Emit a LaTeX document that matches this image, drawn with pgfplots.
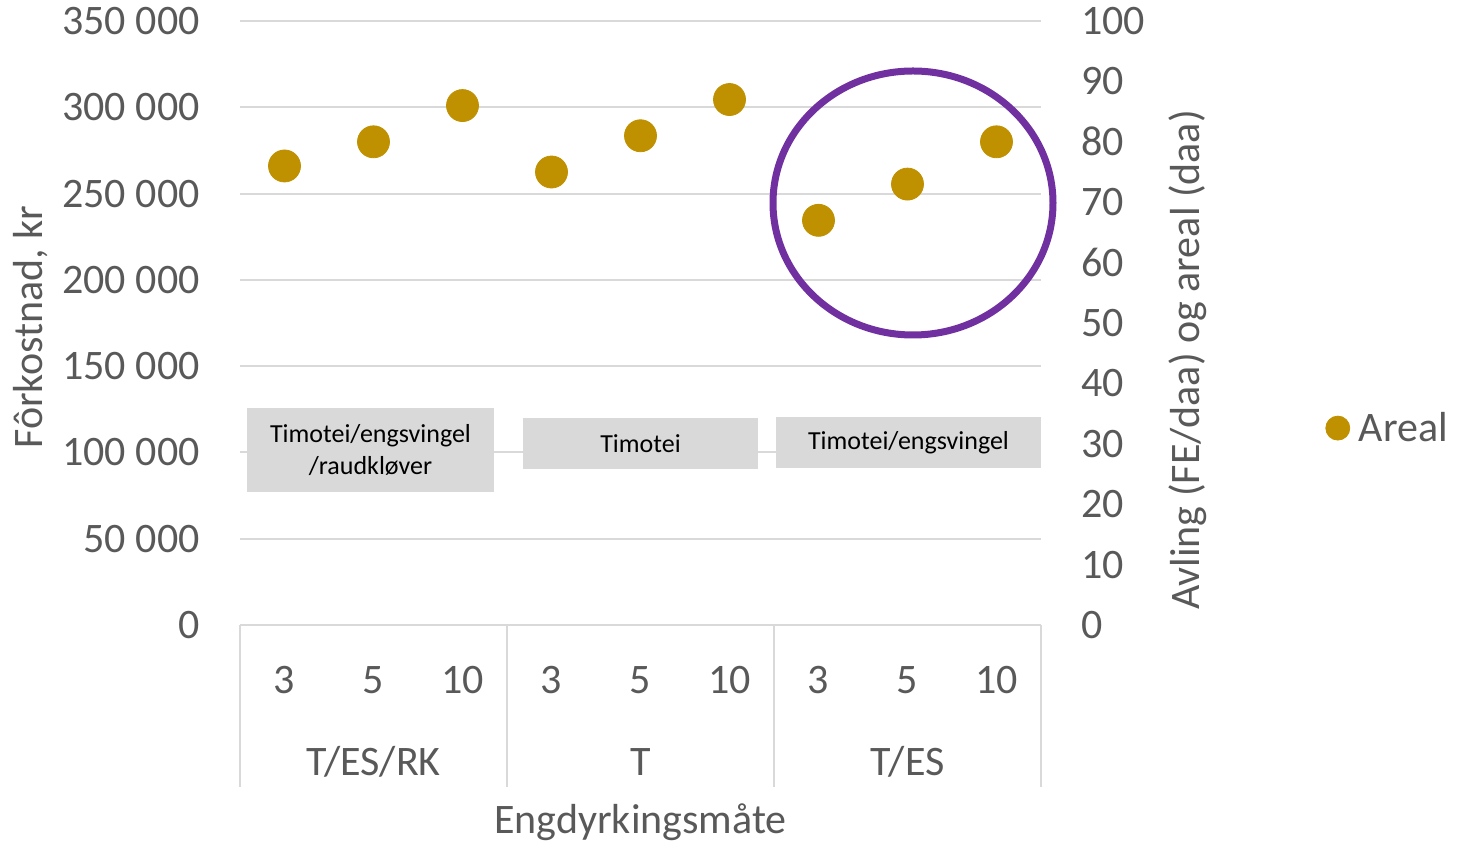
\documentclass[border=0pt]{standalone}
\usepackage{pgfplots}
\pgfplotsset{compat=1.18}
\usepackage{fontspec}
\setmainfont{Carlito}
\definecolor{txt}{HTML}{595959}
\definecolor{gridc}{HTML}{D9D9D9}
\definecolor{gold}{HTML}{BF9000}
\definecolor{purp}{HTML}{7030A0}
\newcommand{\bigf}{\fontsize{21}{25}\selectfont}
\begin{document}
\begin{tikzpicture}
\path[use as bounding box] (0,0) rectangle (740.5pt,421.5pt);
% left axis with grid and category axis
\begin{axis}[
  at={(120pt,109pt)}, anchor=south west,
  scale only axis, width=400.5pt, height=302pt,
  xmin=0, xmax=9, ymin=0, ymax=350000,
  scaled y ticks=false,
  axis line style={draw=none},
  major tick length=0pt,
  ytick={0,50000,100000,150000,200000,250000,300000,350000},
  yticklabels={0,50 000,100 000,150 000,200 000,250 000,300 000,350 000},
  xtick={0.5,1.5,2.5,3.5,4.5,5.5,6.5,7.5,8.5},
  xticklabels={3,5,10,3,5,10,3,5,10},
  ymajorgrids, grid style={gridc, line width=1pt},
  yticklabel style={font=\bigf, text=txt, anchor=east, inner sep=0pt, xshift=-20pt},
  xticklabel style={font=\bigf, text=txt, anchor=base, inner sep=0pt, yshift=-34.25pt},
  clip=false,
]
\draw[gridc, line width=1pt] (axis cs:0,0) -- (axis cs:9,0);
\draw[gridc, line width=1pt] (axis cs:0,0) -- ++(0,-81pt);
\draw[gridc, line width=1pt] (axis cs:3,0) -- ++(0,-81pt);
\draw[gridc, line width=1pt] (axis cs:6,0) -- ++(0,-81pt);
\draw[gridc, line width=1pt] (axis cs:9,0) -- ++(0,-81pt);
\node[font=\bigf, text=txt, anchor=base, inner sep=0pt] at ([yshift=-75.25pt]axis cs:1.5,0) {T/ES/RK};
\node[font=\bigf, text=txt, anchor=base, inner sep=0pt] at ([yshift=-75.25pt]axis cs:4.5,0) {T};
\node[font=\bigf, text=txt, anchor=base, inner sep=0pt] at ([yshift=-75.25pt]axis cs:7.5,0) {T/ES};
\end{axis}
% right axis with data
\begin{axis}[
  at={(120pt,109pt)}, anchor=south west,
  scale only axis, width=400.5pt, height=302pt,
  xmin=0, xmax=9, ymin=0, ymax=100,
  axis line style={draw=none},
  major tick length=0pt,
  xtick=\empty,
  axis y line*=right,
  ytick={0,10,...,100},
  yticklabels={0,10,20,30,40,50,60,70,80,90,100},
  yticklabel style={font=\bigf, text=txt, anchor=west, inner sep=0pt, xshift=20pt},
  clip=false,
  legend style={draw=none, fill=none, at={(axis description cs:1,0.326)}, anchor=west, xshift=142pt, font=\bigf, text=txt, inner sep=0pt},
  legend image code/.code={\fill[gold] (0pt,0pt) circle (6pt); \path[draw=none, fill=none] (0pt,0pt) -- (8.5pt,0pt);},
]
\node[fill=gridc, minimum width=123.5pt, minimum height=42pt, inner sep=0pt, align=center, font=\fontsize{13}{16}\selectfont] at (axis cs:1.4663,28.97) {Timotei/engsvingel\\/raudkløver};
\node[fill=gridc, minimum width=117.5pt, minimum height=25.5pt, inner sep=0pt, align=center, font=\fontsize{13}{16}\selectfont] at (axis cs:4.5,30.05) {Timotei};
\node[fill=gridc, minimum width=132.5pt, minimum height=25.5pt, inner sep=0pt, align=center, font=\fontsize{13}{16}\selectfont] at (axis cs:7.5112,30.21) {Timotei/engsvingel};
\addplot[only marks, mark=*, mark size=8pt, gold, mark options={draw=gold, fill=gold}] coordinates {
  (0.5,76) (1.5,80) (2.5,86) (3.5,75) (4.5,81) (5.5,87) (6.5,67) (7.5,73) (8.5,80)
};
\addlegendentry{Areal}
\draw[purp, line width=3.5pt] (axis cs:7.5618,69.87) ellipse [x radius=70pt, y radius=66pt];
\end{axis}
\node[font=\bigf, text=txt, rotate=90, anchor=center] at (15.5pt,258pt) {Fôrkostnad, kr};
\node[font=\bigf, text=txt, rotate=90, anchor=center] at (594pt,241.5pt) {Avling (FE/daa) og areal (daa)};
\node[font=\bigf, text=txt, anchor=base, inner sep=0pt] at (320.25pt,4.75pt) {Engdyrkingsmåte};
\end{tikzpicture}
\end{document}
